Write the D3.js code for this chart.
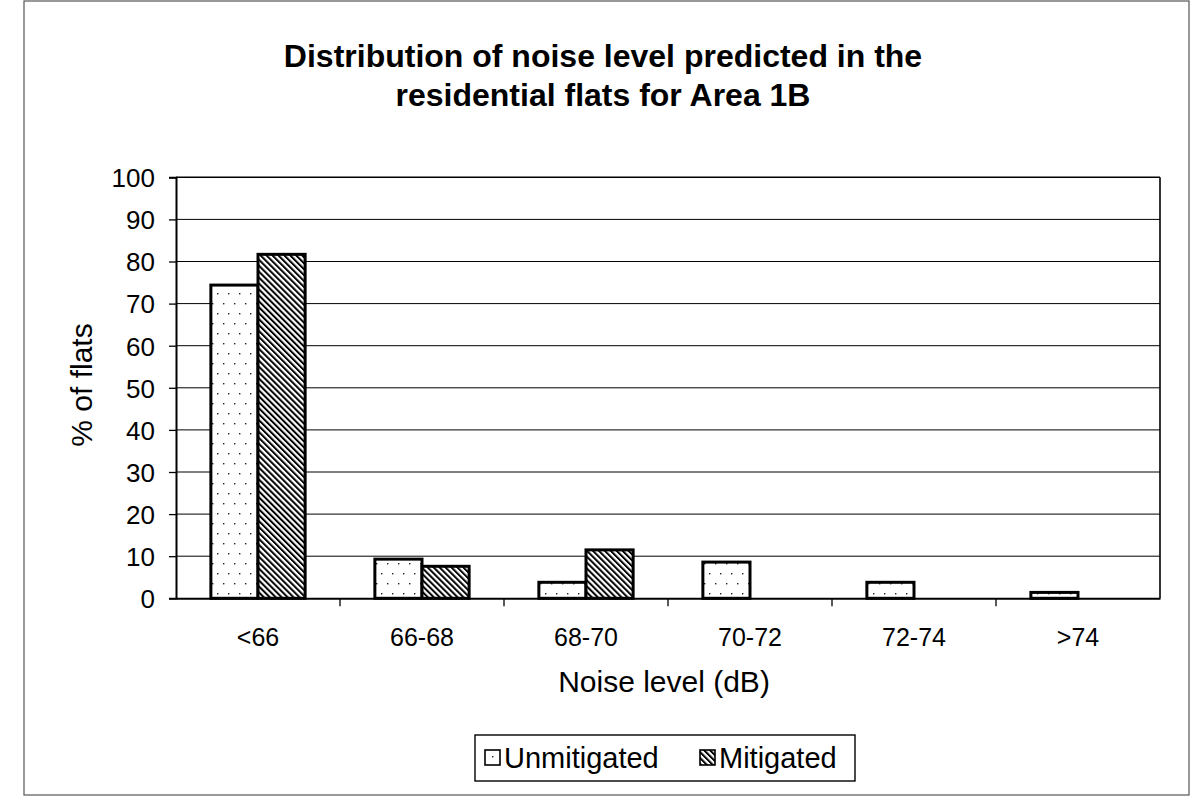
<!DOCTYPE html>
<html><head><meta charset="utf-8">
<script src="https://cdn.jsdelivr.net/npm/d3@7"></script>
<style>body{margin:0;background:#fff;} svg{display:block;font-family:"Liberation Sans",Arial,sans-serif;}</style>
</head><body>
<svg id="c" width="1192" height="798"></svg>
<script>
const categories = ["<66", "66-68", "68-70", "70-72", "72-74", ">74"];
const unmitigated = [74.4, 9.3, 3.8, 8.6, 3.8, 1.4];
const mitigated = [81.7, 7.6, 11.5, 0, 0, 0];
const seriesNames = ["Unmitigated", "Mitigated"];
const yTicks = [0,10,20,30,40,50,60,70,80,90,100];
const titleLines = ["Distribution of noise level predicted in the", "residential flats for Area 1B"];

const svg = d3.select("#c");
const m = {left:176, right:1160, top:177.3, bottom:598.3};
const FONT = "Liberation Sans, Arial, sans-serif";

const defs = svg.append("defs");
const dots = defs.append("pattern").attr("id","dots").attr("patternUnits","userSpaceOnUse")
  .attr("width",22).attr("height",20);
dots.append("rect").attr("width",22).attr("height",20).attr("fill","#fff");
[[3,3],[14,3],[8,13],[19,13]].forEach(p=>dots.append("rect").attr("x",p[0]).attr("y",p[1])
  .attr("width",1.4).attr("height",1.4).attr("fill","#222"));
const hatch = defs.append("pattern").attr("id","hatch").attr("patternUnits","userSpaceOnUse")
  .attr("width",4.2).attr("height",4.2).attr("patternTransform","rotate(-45)");
hatch.append("rect").attr("width",4.2).attr("height",4.2).attr("fill","#fff");
hatch.append("rect").attr("x",0).attr("y",0).attr("width",2).attr("height",4.2).attr("fill","#000");

// outer frame
svg.append("rect").attr("x",24).attr("y",1).attr("width",1165).attr("height",794)
  .attr("fill","none").attr("stroke","#555").attr("stroke-width",1.2);

// title
svg.append("g").selectAll("text").data(titleLines).join("text")
  .attr("x",603).attr("y",(d,i)=>67+i*39).attr("text-anchor","middle")
  .attr("font-weight","bold").attr("font-size",32).text(d=>d);

const x = d3.scaleBand().domain(categories).range([m.left,m.right]);
const y = d3.scaleLinear().domain([0,100]).range([m.bottom,m.top]);
const xs = d3.scaleBand().domain(seriesNames).range([0,x.bandwidth()]).paddingInner(0).paddingOuter(0.74);

// gridlines
svg.append("g").selectAll("line").data(yTicks.filter(t=>t>0)).join("line")
  .attr("x1",m.left).attr("x2",m.right).attr("y1",d=>y(d)).attr("y2",d=>y(d))
  .attr("stroke","#000").attr("stroke-width",d=>d===100?1.6:1);
// right border
svg.append("line").attr("x1",m.right).attr("x2",m.right).attr("y1",m.top).attr("y2",m.bottom)
  .attr("stroke","#000").attr("stroke-width",1.6);

// bars
const data = categories.map((c,i)=>({c, vals:[{s:"Unmitigated",v:unmitigated[i]},{s:"Mitigated",v:mitigated[i]}]}));
const g = svg.append("g").selectAll("g").data(data).join("g").attr("transform",d=>`translate(${x(d.c)},0)`);
g.selectAll("rect").data(d=>d.vals.filter(v=>v.v>0)).join("rect")
  .attr("x",d=>xs(d.s)).attr("width",xs.bandwidth())
  .attr("y",d=>y(d.v)).attr("height",d=>y(0)-y(d.v))
  .attr("fill",d=>d.s==="Unmitigated"?"url(#dots)":"url(#hatch)")
  .attr("stroke","#000").attr("stroke-width",3);

// axes
const yAxis = svg.append("g").attr("transform",`translate(${m.left},0)`)
  .call(d3.axisLeft(y).tickValues(yTicks).tickSize(7).tickPadding(14));
yAxis.select(".domain").attr("stroke","#000").attr("stroke-width",2);
yAxis.selectAll(".tick line").attr("stroke-width",1.3);
yAxis.selectAll("text").attr("font-size",26).attr("fill","#000").attr("font-family",FONT).attr("dy","0.36em");

const xAxis = svg.append("g").attr("transform",`translate(0,${m.bottom})`)
  .call(d3.axisBottom(x).tickSize(0).tickPadding(30));
xAxis.select(".domain").attr("stroke","#000").attr("stroke-width",2);
xAxis.selectAll("text").attr("font-size",25).attr("fill","#000").attr("font-family",FONT);
// boundary ticks
svg.append("g").selectAll("line").data(categories.slice(1)).join("line")
  .attr("x1",d=>x(d)).attr("x2",d=>x(d)).attr("y1",m.bottom).attr("y2",m.bottom+8)
  .attr("stroke","#000").attr("stroke-width",1.3);

// axis titles
svg.append("text").attr("x",664).attr("y",692).attr("text-anchor","middle").attr("font-size",30).text("Noise level (dB)");
svg.append("text").attr("transform","translate(92,385) rotate(-90)").attr("text-anchor","middle").attr("font-size",30).text("% of flats");

// legend
const lg = svg.append("g");
lg.append("rect").attr("x",475).attr("y",735).attr("width",380).attr("height",46)
  .attr("fill","#fff").attr("stroke","#000").attr("stroke-width",1.4);
const lx = [485, 700];
seriesNames.forEach((s,i)=>{
  lg.append("rect").attr("x",lx[i]).attr("y",750).attr("width",15).attr("height",15)
    .attr("fill",i===0?"#fff":"url(#hatch)").attr("stroke","#000").attr("stroke-width",1.6);
  if(i===0) lg.append("rect").attr("x",lx[i]+7).attr("y",756).attr("width",1.4).attr("height",1.4).attr("fill","#222");
  lg.append("text").attr("x",lx[i]+19).attr("y",768).attr("font-size",29).text(s);
});
</script>
</body></html>
